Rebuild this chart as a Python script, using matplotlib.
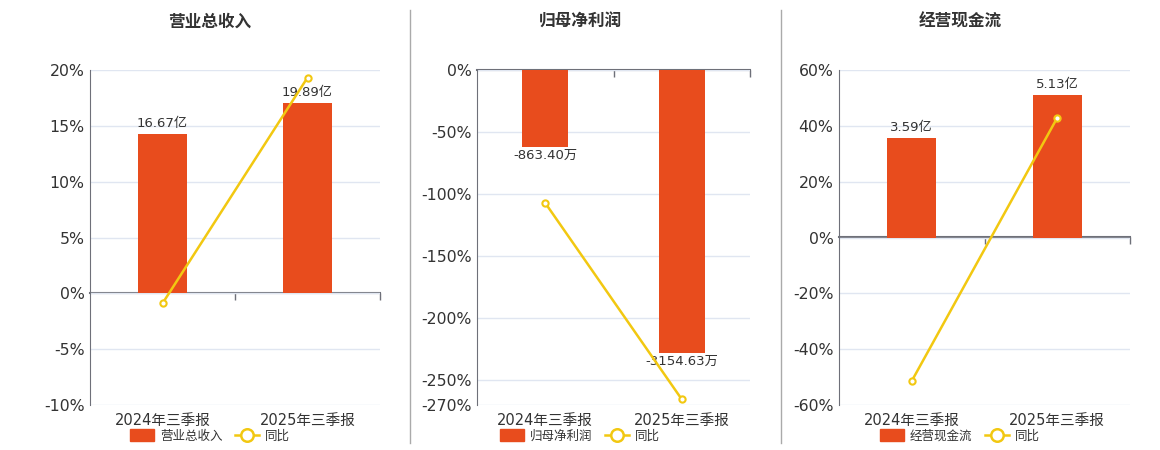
import matplotlib.pyplot as plt
from matplotlib.patches import Patch
from matplotlib.lines import Line2D

plt.rcParams['font.family'] = ['DejaVu Sans', 'Noto Sans CJK SC']

# 数据
periods = ['2024年三季报', '2025年三季报']
titles = ['营业总收入', '归母净利润', '经营现金流']
bar_values = [[16.67, 19.89], [-863.40, -3154.63], [3.59, 5.13]]
bar_labels = [['16.67亿', '19.89亿'], ['-863.40万', '-3154.63万'], ['3.59亿', '5.13亿']]
yoy_values = [[-0.9, 19.32], [-107.2, -265.4], [-51.4, 42.9]]
pct_ticks = [[-10, -5, 0, 5, 10, 15, 20],
             [-270, -250, -200, -150, -100, -50, 0],
             [-60, -40, -20, 0, 20, 40, 60]]
bar_limits = [(-11.67, 23.35), (-3734, 0), (-6.03, 6.03)]

BAR_COLOR = '#E84C1D'
LINE_COLOR = '#F2C811'
AXIS_COLOR = '#6E7079'
GRID_COLOR = '#E0E6F1'
TEXT_COLOR = '#333333'

W, H = 1160, 450
fig = plt.figure(figsize=(W / 100, H / 100), dpi=100)

axes_px = [(90, 380), (477, 750), (839, 1130)]
centers = [210, 580, 960]
top_px, bottom_px = 70, 405

for i in range(3):
    l, r = axes_px[i]
    ax = fig.add_axes([l / W, (H - bottom_px) / H, (r - l) / W, (bottom_px - top_px) / H])
    ticks = pct_ticks[i]
    ax.set_ylim(ticks[0], ticks[-1])
    ax.set_xlim(-0.5, 1.5)
    ax.set_yticks(ticks)
    ax.set_yticklabels([f'{t}%' for t in ticks])
    ax.yaxis.grid(True, color=GRID_COLOR, linewidth=1)
    ax.set_axisbelow(True)
    for s in ['top', 'right', 'bottom']:
        ax.spines[s].set_visible(False)
    ax.spines['left'].set_color(AXIS_COLOR)
    ax.tick_params(axis='y', length=0, labelsize=11.3, labelcolor=TEXT_COLOR, pad=4)
    ax.set_xticks(range(len(periods)))
    ax.set_xticklabels(periods)
    ax.tick_params(axis='x', length=0, labelsize=10.5, labelcolor=TEXT_COLOR, pad=6)

    # 零线
    zero_frac = (0 - ticks[0]) / (ticks[-1] - ticks[0])
    sec = ax.secondary_xaxis(zero_frac)
    sec.set_xticks([0.5, 1.5])
    sec.set_xticklabels(['', ''])
    for s in ['top', 'bottom']:
        sec.spines[s].set_color(AXIS_COLOR)
        sec.spines[s].set_linewidth(1.5)
    sec.tick_params(length=5, color=AXIS_COLOR, width=1,
                    direction='in' if zero_frac >= 0.5 else 'out')

    # 柱状
    axb = ax.twinx()
    axb.set_ylim(*bar_limits[i])
    axb.axis('off')
    bars = axb.bar(range(len(periods)), bar_values[i], width=0.34, color=BAR_COLOR, zorder=2)
    for b, v, lab in zip(bars, bar_values[i], bar_labels[i]):
        x = b.get_x() + b.get_width() / 2
        if v >= 0:
            axb.annotate(lab, (x, v), xytext=(0, 3), textcoords='offset points',
                         ha='center', va='bottom', fontsize=9.5, color=TEXT_COLOR)
        else:
            axb.annotate(lab, (x, v), xytext=(0, -1), textcoords='offset points',
                         ha='center', va='top', fontsize=9.5, color=TEXT_COLOR)

    # 同比
    axl = ax.twinx()
    axl.set_ylim(ticks[0], ticks[-1])
    axl.axis('off')
    axl.plot(range(len(periods)), yoy_values[i], color=LINE_COLOR, linewidth=1.8,
             marker='o', markersize=4.5, markerfacecolor='white',
             markeredgecolor=LINE_COLOR, markeredgewidth=1.5, zorder=3)

    fig.text(centers[i] / W, 1 - 22 / H, titles[i], ha='center', va='center',
             fontsize=12, fontweight='bold', color=TEXT_COLOR)

    handles = [Patch(facecolor=BAR_COLOR, edgecolor=BAR_COLOR),
               Line2D([0], [0], color=LINE_COLOR, linewidth=1.8, marker='o', markersize=9,
                      markerfacecolor='white', markeredgecolor=LINE_COLOR, markeredgewidth=1.8)]
    fig.legend(handles, [titles[i], '同比'], loc='center', bbox_to_anchor=(centers[i] / W, 1 - 436 / H),
               ncol=2, frameon=False, fontsize=9, handlelength=1.9, handleheight=1.1,
               columnspacing=1.0, handletextpad=0.5, labelcolor=TEXT_COLOR)

for x in [410, 781]:
    fig.add_artist(Line2D([x / W, x / W], [1 - 10 / H, 1 - 443 / H], color='#AAAAAA', linewidth=1))

fig.savefig('out.png', dpi=100)
